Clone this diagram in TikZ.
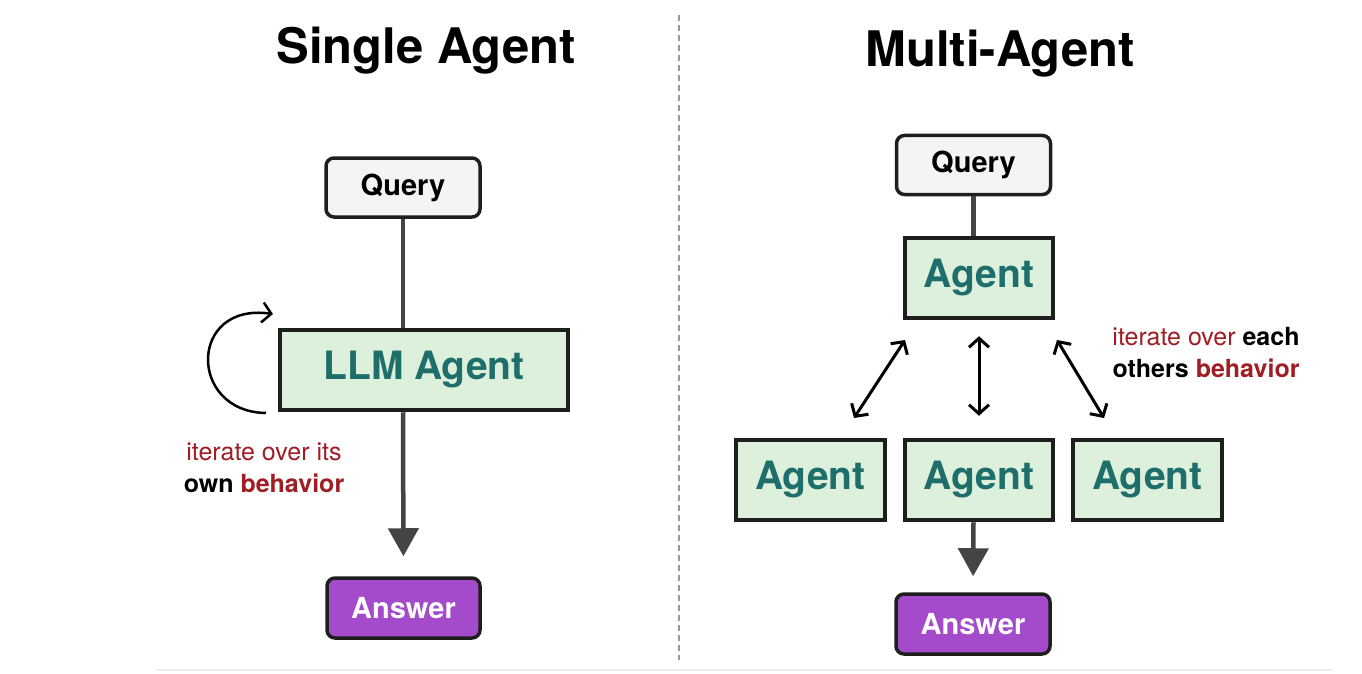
\documentclass[tikz,border=0pt]{standalone}
\usepackage{fontspec}
\setmainfont{TeX Gyre Heros}
\usetikzlibrary{arrows.meta}
\definecolor{boxgreen}{HTML}{DDF0DB}
\definecolor{tealtxt}{HTML}{1E6E6C}
\definecolor{purp}{HTML}{A34BCB}
\definecolor{darkred}{HTML}{A11D24}
\definecolor{qgray}{HTML}{F4F4F4}
\definecolor{edgecol}{HTML}{1E1E1E}
\definecolor{conncol}{HTML}{444444}
\definecolor{divcol}{HTML}{9A9A9A}
\tikzset{
  querybox/.style={draw=edgecol, line width=3.5pt, fill=qgray, rounded corners=8pt,
    minimum width=154pt, minimum height=59pt, inner sep=0pt,
    font=\fontsize{29}{34}\selectfont\bfseries},
  agentbox/.style={draw=edgecol, line width=4.5pt, fill=boxgreen, minimum height=80pt,
    inner sep=0pt, text=tealtxt, font=\fontsize{39}{46}\selectfont\bfseries},
  answerbox/.style={draw=edgecol, line width=3.5pt, fill=purp, rounded corners=8pt,
    minimum width=153pt, minimum height=60pt, inner sep=0pt, text=white,
    font=\fontsize{29}{34}\selectfont\bfseries},
  flow/.style={draw=conncol, line width=4.5pt},
  flowarrow/.style={flow, -{Triangle[length=28pt,width=30pt]}},
  dblarrow/.style={draw=black, line width=3pt,
    {Straight Barb[length=9pt,width=20pt]}-{Straight Barb[length=9pt,width=20pt]}},
  looparrow/.style={draw=black, line width=2.5pt, -{Straight Barb[length=9pt,width=20pt]}},
  titletext/.style={anchor=base, font=\fontsize{49}{56}\selectfont\bfseries},
  note/.style={align=center, font=\fontsize{25}{32}\selectfont},
}
\begin{document}
\begin{tikzpicture}[x=1pt,y=-1pt]
\useasboundingbox (0,0) rectangle (1362,674);
\fill[white] (0,0) rectangle (1362,674);

% divider and bottom rule
\coordinate (divtop) at (679,15);
\coordinate (divbot) at (679,660);
\draw[divcol, line width=2pt, dash pattern=on 6pt off 4pt] (divtop) -- (divbot);
\coordinate (rulel) at (157,670);
\coordinate (ruler) at (1332,670);
\draw[black!7, line width=2pt] (rulel) -- (ruler);

% titles
\node[titletext] (t1) at (426,64) {Single Agent};
\node[titletext] (t2) at (1000,67) {Multi-Agent};

% ---------- single agent ----------
\node[querybox] (q1) at (403,187.5) {Query};
\node[agentbox, minimum width=288pt] (llm) at (424,370) {LLM Agent};
\node[answerbox] (a1) at (403.5,608) {Answer};

\draw[flow] (q1.south) -- (q1.south |- llm.north);
\draw[flowarrow, shorten >=20pt] (q1.south |- llm.south) -- (a1.north);

\coordinate (loopstart) at (266,413);
\coordinate (loopend) at (273,314);
\draw[looparrow] (loopstart) .. controls (188,412) and (188,302) .. (loopend);

\node[note] (n1) at (264,468) {{\color{darkred}iterate over its}\\\textbf{own} {\color{darkred}\textbf{behavior}}};

% ---------- multi agent ----------
\node[querybox] (q2) at (973.5,165) {Query};
\node[agentbox, minimum width=148pt] (top) at (979,278) {Agent};
\node[agentbox, minimum width=149pt] (ag1) at (810.5,480) {Agent};
\node[agentbox, minimum width=148pt] (ag2) at (979,480) {Agent};
\node[agentbox, minimum width=149pt] (ag3) at (1147.5,480) {Agent};
\node[answerbox, minimum width=154pt] (a2) at (973,624) {Answer};

\draw[flow] (q2.south) -- (q2.south |- top.north);
\draw[flowarrow, shorten >=16pt] (q2.south |- ag2.south) -- (a2.north);

\coordinate (d1a) at (854,418);
\coordinate (d1b) at (905,340);
\coordinate (d3a) at (1057,340);
\coordinate (d3b) at (1104,418);
\draw[dblarrow] (d1a) -- (d1b);
\draw[dblarrow, shorten <=16pt, shorten >=22pt] (top.south) -- (ag2.north);
\draw[dblarrow] (d3a) -- (d3b);

\node[note] (n2) at (1206,352) {{\color{darkred}iterate over} \textbf{each}\\\textbf{others} {\color{darkred}\textbf{behavior}}};
\end{tikzpicture}
\end{document}
